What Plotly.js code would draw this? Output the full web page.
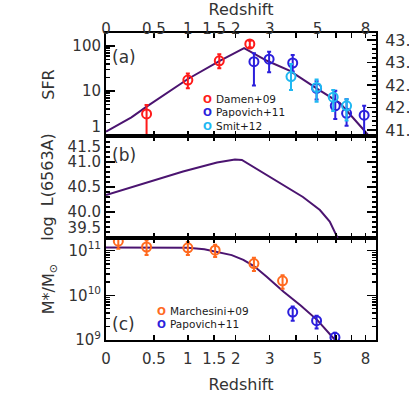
<!DOCTYPE html>
<html>
<head>
<meta charset="utf-8">
<script src="https://cdn.plot.ly/plotly-3.0.1.min.js"></script>
<style>html,body{margin:0;padding:0;background:#fff;}#chart{width:409px;height:409px;}</style>
</head>
<body>
<div id="chart"></div>
<script>
// ---- x axis (redshift) ticks ----
const zTicks = [0, 0.5, 1, 1.5, 2, 3, 4, 5, 6, 7, 8];
const zTickText = ['0', '0.5', '1', '1.5', '2', '3', '', '5', '', '', '8'];

// ---- panel (a): SFR ----
const sfrModelZ = [0, 0.24, 0.415, 1.0, 1.62, 2.22, 2.91, 3.75, 4.95, 6.25, 7.81, 8.84];
const sfrModel  = [1.25, 2.6, 4.57, 18.5, 47, 90, 47, 28, 11.5, 5.4, 1.43, 0.66];

const damenZ = [0.41, 1.0, 1.61, 2.38];
const damenSFR = [3.1, 17.5, 47, 111];
const damenErrPlus = [1.8, 7, 19, 20];
const damenErrMinus = [2.6, 6, 15, 17];

const papSfrZ = [2.5, 2.98, 3.86, 4.95, 5.97, 6.67, 7.9];
const papSFR = [45, 51, 42, 11.5, 4.7, 3.2, 2.9];
const papSfrErrPlus = [24, 23.5, 21, 5, 5.5, 3.4, 1.8];
const papSfrErrMinus = [31.8, 25, 15, 5, 2.3, 1.5, 2.1];

const smitZ = [3.79, 4.95, 5.85, 6.67];
const smitSFR = [21, 12, 7.3, 4.7];
const smitErrPlus = [19, 6, 3.2, 1.9];
const smitErrMinus = [10.5, 6.2, 3.7, 2.5];

// ---- panel (b): log L(6563A) ----
const lhaZ = [0, 0.33, 0.92, 1.56, 1.8, 1.98, 2.16, 3.47, 4.3, 5.12, 5.65, 6.07, 6.56];
const lhaLog = [40.34, 40.55, 40.81, 40.99, 41.03, 41.05, 41.04, 40.54, 40.30, 40.04, 39.81, 39.51, 39.04];

// ---- panel (c): stellar mass ----
const massModelZ = [0, 0.5, 1.0, 1.3, 1.6, 1.9, 2.2, 2.5, 2.9, 3.5, 4.2, 5.0, 5.8, 6.5];
const massModel = [1.17e11, 1.17e11, 1.15e11, 1.07e11, 9.3e10, 7.9e10, 6.2e10, 4.5e10, 2.6e10, 1.2e10, 5.9e9, 2.75e9, 1.17e9, 6.3e8];

const marchZ = [0.11, 0.41, 1.0, 1.52, 2.5, 3.46];
const marchM = [1.62e11, 1.20e11, 1.15e11, 1.02e11, 5.1e10, 2.1e10];
const marchErrPlus = [0.38e11, 0.5e11, 0.4e11, 0.33e11, 1.8e10, 0.7e10];
const marchErrMinus = [0.52e11, 0.41e11, 0.36e11, 0.3e11, 1.6e10, 0.7e10];

const papMZ = [3.86, 4.95, 5.95];
const papM = [4.2e9, 2.7e9, 1.15e9];
const papMErrPlus = [1.4e9, 0.8e9, 0.3e9];
const papMErrMinus = [1.5e9, 0.9e9, 0.35e9];

const sfrTickVals = [1, 10, 100];
const sfrTickText = ['1', '10', '100'];
const lhaTickVals = [39.5, 40.0, 40.5, 41.0, 41.5];
const lhaTickText = ['39.5', '40.0', '40.5', '41.0', '41.5'];
const massTickVals = [1e9, 1e10, 1e11];
const massTickText = ['10<sup>9</sup>', '10<sup>10</sup>', '10<sup>11</sup>'];

const legendA = ['Damen+09', 'Papovich+11', 'Smit+12'];
const legendC = ['Marchesini+09', 'Papovich+11'];

// ---- styles ----
const lineColor = '#4b1470';
const red = '#ff1a1a', blue = '#2b1fdc', cyan = '#1fb8f2', orange = '#ff6a1f';
const txt = '#333333';
const FONT = 'DejaVu Sans, sans-serif';
const NB = '\u00a0';

const onePlus = a => a.map(z => 1 + z);
const tv = onePlus(zTicks);

// edge labels are nudged inside their panel (as in the original figure)
const upLabel = s => s + '<br>' + NB;
const downLabel = s => NB + '<br>' + s;
const sfrLabels = sfrTickText.map((s, i) => i === 0 ? upLabel(s) : s);
const lhaLabels = lhaTickText.map((s, i) => i === 0 ? upLabel(s) : (i === lhaTickText.length - 1 ? downLabel(s) : s));

function pts(name, z, y, ep, em, color, xa, ya) {
  return {
    type: 'scatter', mode: 'markers', name: name,
    x: onePlus(z), y: y, xaxis: xa, yaxis: ya, showlegend: false,
    marker: {symbol: 'circle-open', size: 9, color: color, line: {width: 2, color: color}},
    error_y: {type: 'data', array: ep, arrayminus: em, color: color, thickness: 2, width: 2}
  };
}

const traces = [
  {type: 'scatter', mode: 'lines', x: onePlus(sfrModelZ), y: sfrModel, xaxis: 'x2', yaxis: 'y',
   line: {color: lineColor, width: 2}, showlegend: false},
  pts(legendA[0], damenZ, damenSFR, damenErrPlus, damenErrMinus, red, 'x2', 'y'),
  pts(legendA[1], papSfrZ, papSFR, papSfrErrPlus, papSfrErrMinus, blue, 'x2', 'y'),
  pts(legendA[2], smitZ, smitSFR, smitErrPlus, smitErrMinus, cyan, 'x2', 'y'),
  {type: 'scatter', mode: 'lines', x: onePlus(lhaZ), y: lhaLog, xaxis: 'x3', yaxis: 'y3',
   line: {color: lineColor, width: 2}, showlegend: false},
  {type: 'scatter', mode: 'lines', x: onePlus(massModelZ), y: massModel, xaxis: 'x', yaxis: 'y4',
   line: {color: lineColor, width: 2}, showlegend: false},
  pts(legendC[0], marchZ, marchM, marchErrPlus, marchErrMinus, orange, 'x', 'y4'),
  pts(legendC[1], papMZ, papM, papMErrPlus, papMErrMinus, blue, 'x', 'y4'),
  // invisible helpers to activate the overlay axes of panel (a)
  {type: 'scatter', mode: 'markers', x: [2], y: [42], xaxis: 'x2', yaxis: 'y2',
   marker: {opacity: 0}, showlegend: false, hoverinfo: 'skip'},
  {type: 'scatter', mode: 'markers', x: [2], y: [10], xaxis: 'x4', yaxis: 'y',
   marker: {opacity: 0}, showlegend: false, hoverinfo: 'skip'}
];

const xRange = [0, 0.993];
const tickFont = {family: FONT, size: 15, color: txt};
function xAxis(anchor, labels, extra) {
  return Object.assign({
    type: 'log', range: xRange, anchor: anchor,
    tickmode: 'array', tickvals: tv, ticktext: labels ? zTickText : zTicks.map(() => ''),
    showticklabels: labels, tickangle: 0,
    ticks: 'inside', ticklen: 5, tickwidth: 1.5, tickcolor: '#000',
    showline: true, linewidth: 2, linecolor: '#000', mirror: 'ticks',
    showgrid: false, zeroline: false, tickfont: tickFont
  }, extra || {});
}
const yBase = {
  ticks: 'inside', ticklen: 9, tickwidth: 1.5, tickcolor: '#000',
  showline: true, linewidth: 2, linecolor: '#000',
  showgrid: false, zeroline: false, tickfont: tickFont
};

// pixel -> paper helpers for the 409x409 frame (plot area x 106..376, y 33..340)
const px = x => (x - 106) / 270;
const py = y => (340 - y) / 307;

const annotations = [
  {text: '(a)', x: px(110), y: py(57)},
  {text: '(b)', x: px(110), y: py(155)},
  {text: '(c)', x: px(110), y: py(324)}
].map(a => Object.assign(a, {xref: 'paper', yref: 'paper', xanchor: 'left', yanchor: 'middle',
  showarrow: false, font: {family: FONT, size: 17, color: txt}}));

function legendRows(names, colors, cx, y0, dy) {
  names.forEach((n, i) => {
    annotations.push({text: '<b>O</b>', x: px(cx), y: py(y0 + i * dy), xref: 'paper', yref: 'paper',
      xanchor: 'center', yanchor: 'middle', showarrow: false,
      font: {family: FONT, size: 10.5, color: colors[i]}});
    annotations.push({text: n, x: px(cx + 7), y: py(y0 + i * dy), xref: 'paper', yref: 'paper',
      xanchor: 'left', yanchor: 'middle', showarrow: false,
      font: {family: FONT, size: 10.5, color: '#1a1a1a'}});
  });
}
legendRows(legendA, [red, blue, cyan], 207, 99, 13.3);
legendRows(legendC, [orange, blue], 161, 311, 13.3);

const layout = {
  width: 409, height: 409,
  margin: {l: 106, r: 33, t: 33, b: 69},
  paper_bgcolor: '#fff', plot_bgcolor: '#fff',
  font: {family: FONT, color: txt},
  showlegend: false,
  xaxis: xAxis('y4', true, {ticklabelstandoff: 4,
    title: {text: 'Redshift', font: {family: FONT, size: 16, color: txt}, standoff: 12}}),
  xaxis2: xAxis('y', false),
  xaxis3: xAxis('y3', false),
  xaxis4: xAxis('y', true, {overlaying: 'x2', side: 'top', ticks: '', showline: false, mirror: false,
    ticklabelstandoff: -5,
    title: {text: 'Redshift', font: {family: FONT, size: 16, color: txt}, standoff: 8}}),
  yaxis: Object.assign({}, yBase, {
    domain: [0.6645, 1], type: 'log', range: [0, 2.29], anchor: 'x2',
    tickmode: 'array', tickvals: sfrTickVals, ticktext: sfrLabels,
    minor: {ticks: 'inside', ticklen: 4, tickcolor: '#000', tickvals: [2,3,4,5,6,7,8,9,20,30,40,50,60,70,80,90,200]},
    mirror: false,
    title: {text: 'SFR', font: {family: FONT, size: 16, color: txt}, standoff: 14}
  }),
  yaxis2: Object.assign({}, yBase, {
    overlaying: 'y', side: 'right', anchor: 'x2', range: [41.37, 43.66],
    dtick: 0.5, tick0: 41.5, tickformat: '.1f', ticklabelstandoff: 4,
    tickfont: {family: FONT, size: 16, color: txt},
    minor: {ticks: 'inside', ticklen: 4, tickcolor: '#000', dtick: 0.1}
  }),
  yaxis3: Object.assign({}, yBase, {
    domain: [0.3322, 0.6645], range: [39.48, 41.52], anchor: 'x3',
    tickmode: 'array', tickvals: lhaTickVals, ticktext: lhaLabels, mirror: 'ticks',
    minor: {ticks: 'inside', ticklen: 4, tickcolor: '#000', dtick: 0.1},
    title: {text: 'log  L(6563A)', font: {family: FONT, size: 16, color: txt}, standoff: 10}
  }),
  yaxis4: Object.assign({}, yBase, {
    domain: [0, 0.3322], type: 'log', range: [9.0, 11.28], anchor: 'x',
    tickmode: 'array', tickvals: massTickVals, ticktext: massTickText, mirror: 'ticks',
    minor: {ticks: 'inside', ticklen: 4, tickcolor: '#000',
      tickvals: [2e9,3e9,4e9,5e9,6e9,7e9,8e9,9e9,2e10,3e10,4e10,5e10,6e10,7e10,8e10,9e10,2e11]},
    title: {text: 'M*/M<sub>⊙</sub>', font: {family: FONT, size: 16, color: txt}, standoff: 10}
  }),
  annotations: annotations
};

Plotly.newPlot('chart', traces, layout, {displayModeBar: false, staticPlot: true});
</script>
</body>
</html>
